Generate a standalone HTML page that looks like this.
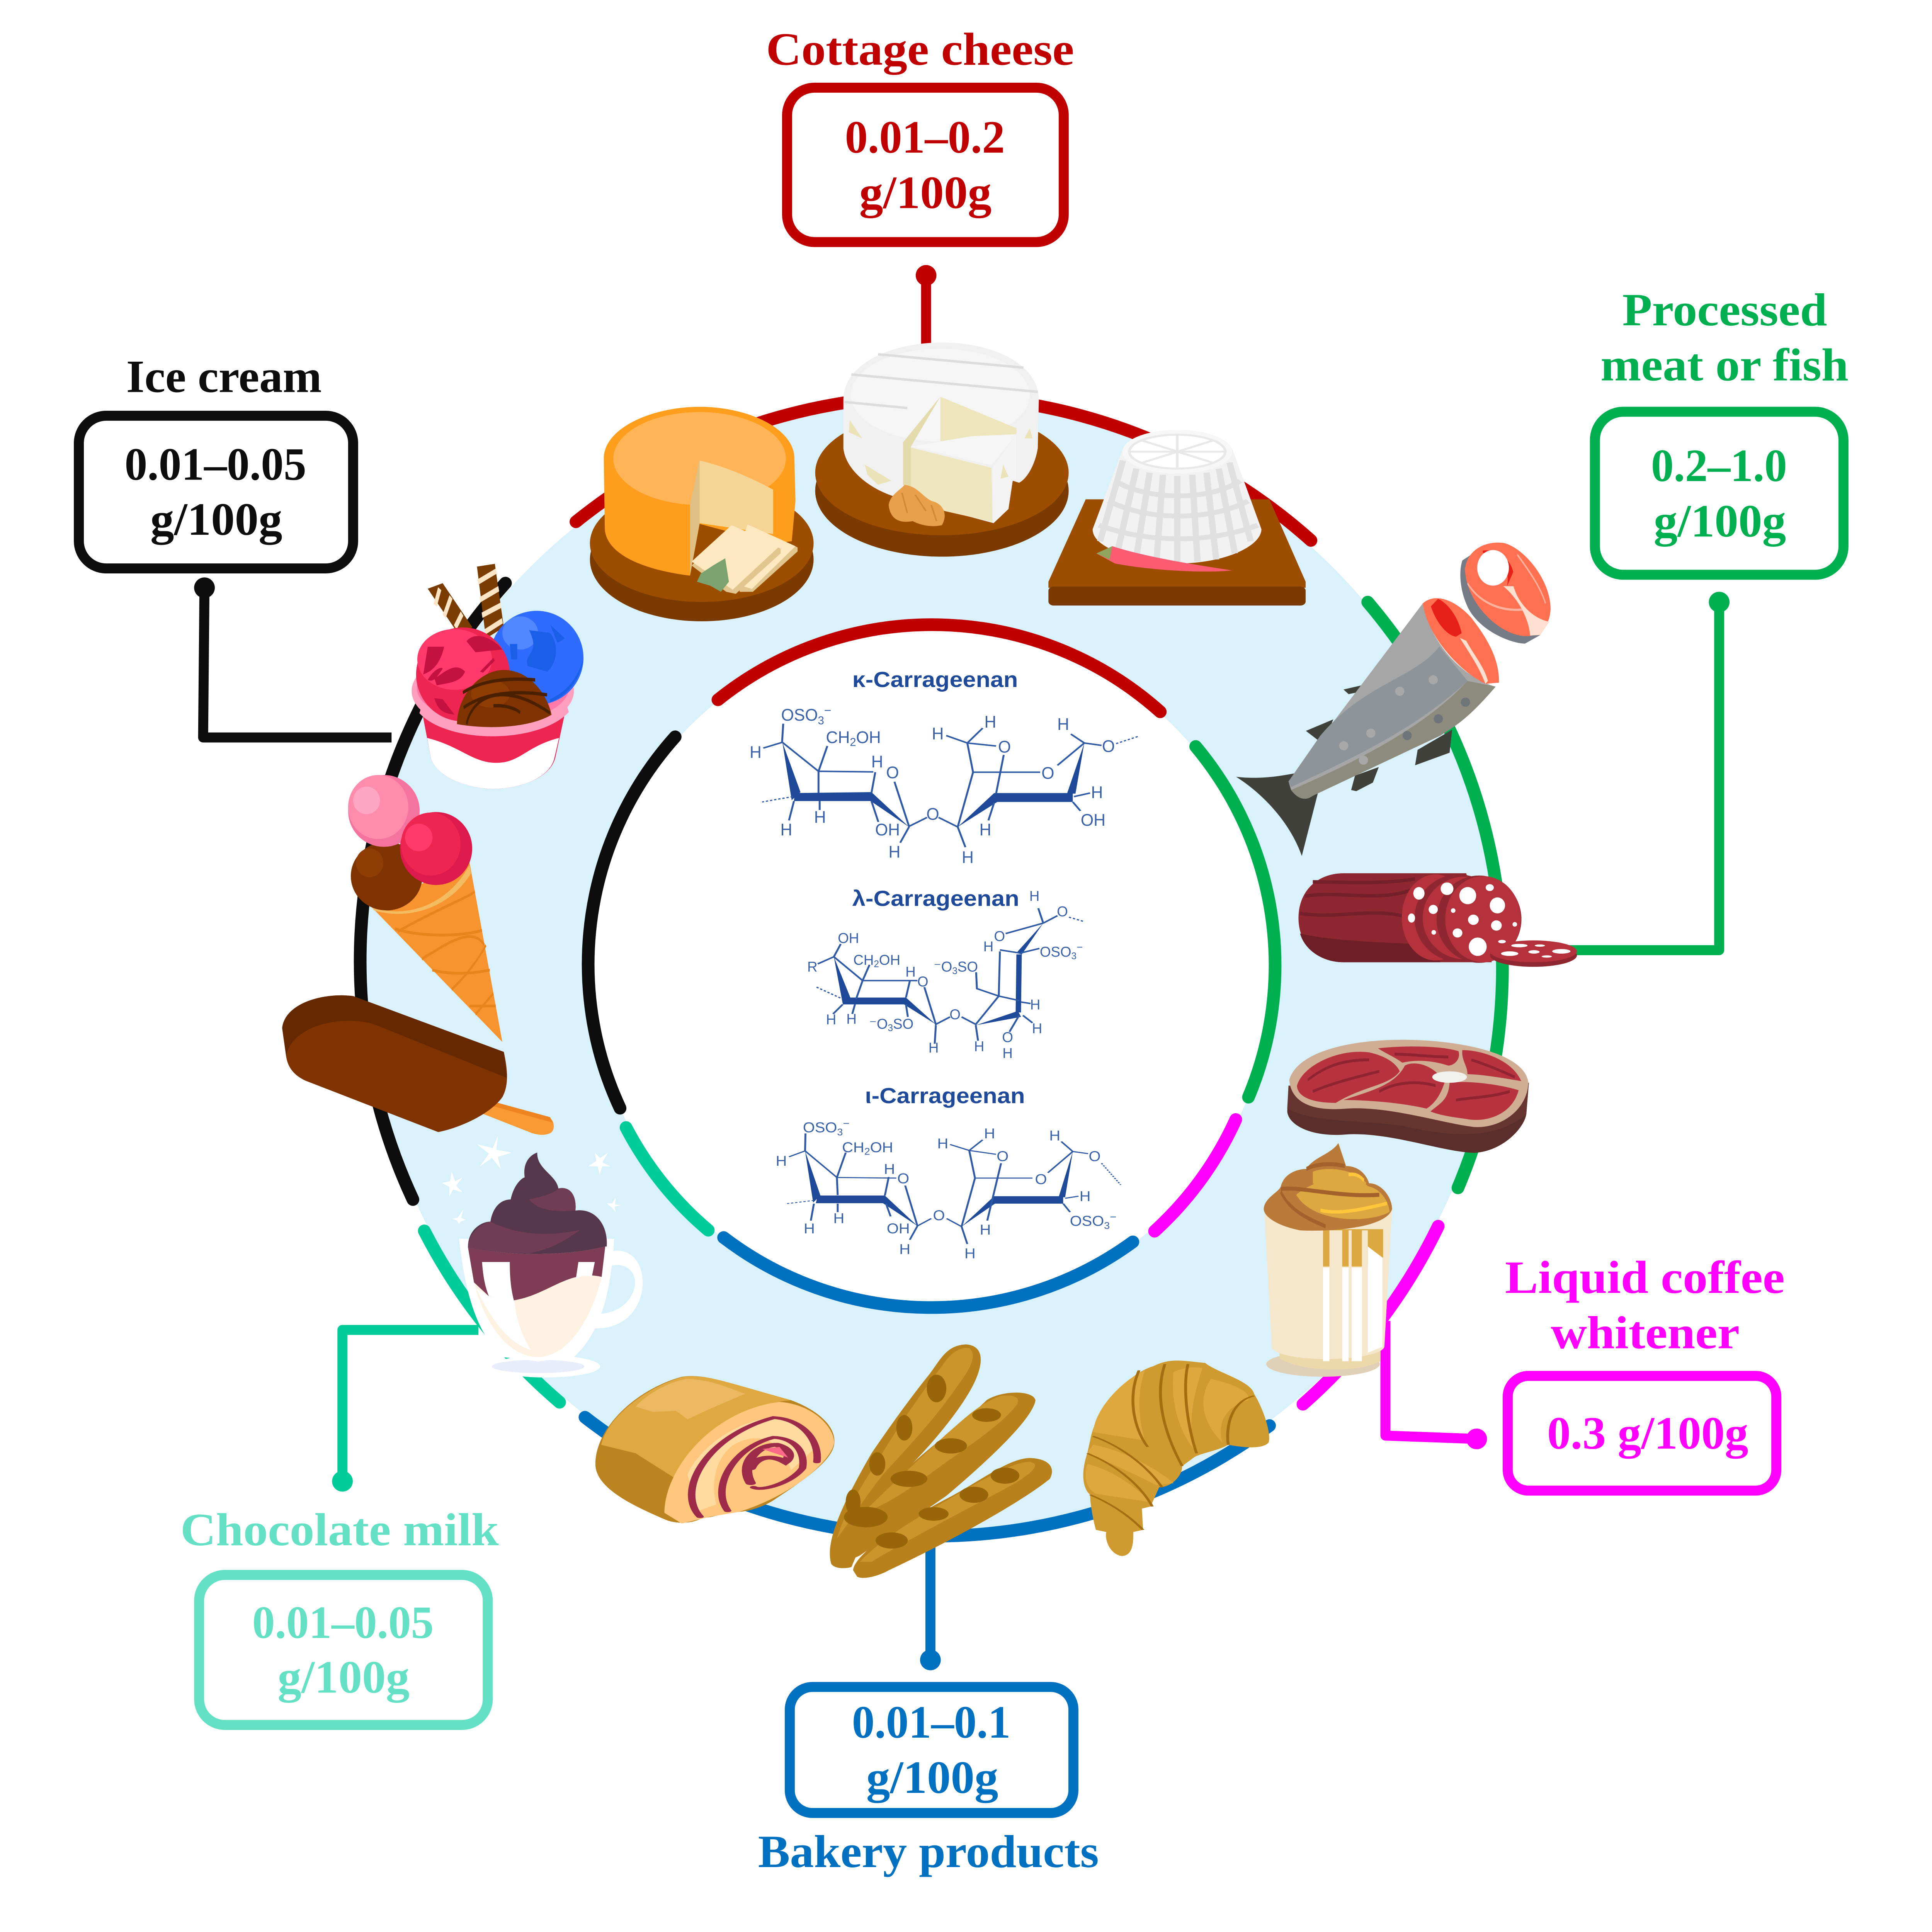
<!DOCTYPE html>
<html><head><meta charset="utf-8"><title>Carrageenan in foods</title>
<style>
html,body{margin:0;padding:0;background:#fff;width:100%;height:100%;overflow:hidden}
svg{display:block;position:fixed;left:0;top:0;width:100vw;height:100vh}
.t{font-family:"Liberation Serif",serif;font-weight:bold;font-size:139px}
.h{font-family:"Liberation Sans",sans-serif;font-weight:bold;font-size:66px;fill:#1f4a99}
.c text{font-family:"Liberation Sans",sans-serif;fill:#3a62a8;text-anchor:middle}
.k text{font-size:56px}
.i text{font-size:68px}
.l{stroke:#2f5aa6;stroke-width:5;fill:none}
.d{stroke:#2f5aa6;stroke-width:4;fill:none;stroke-dasharray:6 5}
.w{fill:#1f4a99}
.a{fill:none;stroke-width:38;stroke-linecap:round}
.n{fill:none;stroke-width:30;stroke-linecap:butt;stroke-linejoin:round}
.b{fill:#fff;stroke-width:30}
</style></head><body>
<svg xmlns="http://www.w3.org/2000/svg" viewBox="0 0 5783 5795" preserveAspectRatio="none">
<rect width="5783" height="5795" fill="#fff"/>
<circle cx="2788" cy="2900" r="1697" fill="#d8f1fb"/>
<circle cx="2789" cy="2902" r="1024" fill="#fff"/>

<!-- inner arcs -->
<path class="a" stroke="#c00000" d="M2149 2099A1024 1024 0 0 1 3473 2135"/>
<path class="a" stroke="#00b050" d="M3579 2239A1024 1024 0 0 1 3737 3291"/>
<path class="a" stroke="#ff00ff" d="M3699 3358A1024 1024 0 0 1 3456 3693"/>
<path class="a" stroke="#0070c0" d="M3391 3725A1024 1024 0 0 1 2166 3712"/>
<path class="a" stroke="#00cc99" d="M2120 3690A1024 1024 0 0 1 1874 3382"/>
<path class="a" stroke="#0d0d0d" d="M1856 3324A1024 1024 0 0 1 2021 2210"/>
<!-- outer arcs -->
<path class="a" stroke="#c00000" d="M1724 1565A1697 1697 0 0 1 3924 1621"/>
<path class="a" stroke="#00b050" d="M4094 1806A1697 1697 0 0 1 4364 3563"/>
<path class="a" stroke="#ff00ff" d="M4305 3678A1697 1697 0 0 1 3900 4212"/>
<path class="a" stroke="#0070c0" d="M3800 4276A1697 1697 0 0 1 1751 4251"/>
<path class="a" stroke="#00cc99" d="M1675 4206A1697 1697 0 0 1 1270 3692"/>
<path class="a" stroke="#0d0d0d" d="M1236 3598A1697 1697 0 0 1 1513 1749"/>

<!-- connectors -->
<path class="n" stroke="#c00000" d="M2772 826V1040"/><circle cx="2772" cy="826" r="31" fill="#c00000"/>
<path class="n" stroke="#0070c0" d="M2785 4600V4979"/><circle cx="2785" cy="4979" r="31" fill="#0070c0"/>
<path class="n" stroke="#00b050" d="M4600 2850H5146V1806"/><circle cx="5146" cy="1806" r="31" fill="#00b050"/>
<path class="n" stroke="#ff00ff" d="M4147 3962V4306L4420 4316"/><circle cx="4420" cy="4316" r="31" fill="#ff00ff"/>
<path class="n" stroke="#0d0d0d" d="M1172 2212H608L612 1763"/><circle cx="612" cy="1763" r="31" fill="#0d0d0d"/>
<path class="n" stroke="#00cc99" d="M1432 3989H1025V4443"/><circle cx="1025" cy="4443" r="31" fill="#00cc99"/>

<!-- boxes -->
<rect class="b" stroke="#c00000" x="2356" y="263" width="828" height="463" rx="82"/>
<rect class="b" stroke="#0d0d0d" x="236" y="1247" width="821" height="458" rx="82"/>
<rect class="b" stroke="#00b050" x="4774" y="1235" width="744" height="489" rx="85"/>
<rect class="b" stroke="#ff00ff" x="4513" y="4127" width="804" height="344" rx="62"/>
<rect class="b" stroke="#64e0c4" x="596" y="4724" width="864" height="450" rx="77"/>
<rect class="b" stroke="#0070c0" x="2364" y="5060" width="849" height="378" rx="68"/>

<!-- labels -->
<g class="t">
<text x="2293" y="194" fill="#c00000" textLength="922" lengthAdjust="spacingAndGlyphs">Cottage cheese</text>
<text x="2529" y="458" fill="#c00000" textLength="479" lengthAdjust="spacingAndGlyphs">0.01–0.2</text>
<text x="2572" y="624" fill="#c00000" textLength="396" lengthAdjust="spacingAndGlyphs">g/100g</text>
<text x="378" y="1176" fill="#0d0d0d" textLength="585" lengthAdjust="spacingAndGlyphs">Ice cream</text>
<text x="373" y="1439" fill="#0d0d0d" textLength="544" lengthAdjust="spacingAndGlyphs">0.01–0.05</text>
<text x="450" y="1604" fill="#0d0d0d" textLength="395" lengthAdjust="spacingAndGlyphs">g/100g</text>
<text x="4856" y="976" fill="#00b050" textLength="613" lengthAdjust="spacingAndGlyphs">Processed</text>
<text x="4791" y="1141" fill="#00b050" textLength="742" lengthAdjust="spacingAndGlyphs">meat or fish</text>
<text x="4942" y="1443" fill="#00b050" textLength="407" lengthAdjust="spacingAndGlyphs">0.2–1.0</text>
<text x="4950" y="1609" fill="#00b050" textLength="396" lengthAdjust="spacingAndGlyphs">g/100g</text>
<text x="4505" y="3878" fill="#ff00ff" textLength="837" lengthAdjust="spacingAndGlyphs">Liquid coffee</text>
<text x="4642" y="4044" fill="#ff00ff" textLength="565" lengthAdjust="spacingAndGlyphs">whitener</text>
<text x="4631" y="4345" fill="#ff00ff" textLength="602" lengthAdjust="spacingAndGlyphs">0.3 g/100g</text>
<text x="540" y="4635" fill="#64e0c4" textLength="953" lengthAdjust="spacingAndGlyphs">Chocolate milk</text>
<text x="755" y="4913" fill="#64e0c4" textLength="543" lengthAdjust="spacingAndGlyphs">0.01–0.05</text>
<text x="831" y="5077" fill="#64e0c4" textLength="395" lengthAdjust="spacingAndGlyphs">g/100g</text>
<text x="2550" y="5212" fill="#0070c0" textLength="475" lengthAdjust="spacingAndGlyphs">0.01–0.1</text>
<text x="2593" y="5378" fill="#0070c0" textLength="395" lengthAdjust="spacingAndGlyphs">g/100g</text>
<text x="2269" y="5600" fill="#0070c0" textLength="1020" lengthAdjust="spacingAndGlyphs">Bakery products</text>
</g>
<text class="h" x="2551" y="2061" textLength="496" lengthAdjust="spacingAndGlyphs">κ-Carrageenan</text>
<text class="h" x="2551" y="2717" textLength="500" lengthAdjust="spacingAndGlyphs">λ-Carrageenan</text>
<text class="h" x="2589" y="3309" textLength="479" lengthAdjust="spacingAndGlyphs">ι-Carrageenan</text>

<!-- kappa + lambda structures -->
<g class="c k" transform="translate(2000,1800) scale(1.148,.893)">
<g class="w">
<polygon points="298,478 322,672 345,645"/><polygon points="330,648 530,645 530,675 328,675"/><polygon points="530,645 628,762 528,675"/>
<polygon points="1085,480 1040,650 1062,650"/><polygon points="850,648 1055,648 1055,678 850,678"/><polygon points="755,762 850,648 858,678"/>
<polygon points="460,1335 620,1335 620,1358 455,1358"/><polygon points="432,1198 455,1355 475,1335"/><polygon points="620,1335 698,1425 615,1358"/>
<polygon points="908,1190 922,1190 920,1385 906,1385"/><polygon points="802,1428 912,1380 920,1400"/><polygon points="978,1085 908,1185 922,1190"/>
</g>
<path class="l" d="M298 478L392 575L535 577M392 575L415 490M392 575V648M297 478L300 415M297 478L248 497M540 578L530 648M590 610L628 760L675 730M705 730L755 762L795 578H970M780 480L795 578M780 480L725 455M780 480L820 430M780 480L855 490M875 520L855 650M1085 480L1050 450M1085 480L1130 488M1058 660L1100 648M1055 678L1075 708M850 680L835 740M755 762L775 830M628 762L605 815M530 675L548 745M328 675L315 740M395 675V705"/>
<path class="l" stroke-width="8" d="M1085 480L1015 555"/>
<path class="d" d="M325 660L245 678M1168 482L1225 458"/>
<path class="l" d="M432 1198L507 1278H650M507 1278L525 1225M507 1278L490 1340M630 1280L620 1335M668 1300L698 1425L735 1400M765 1400L802 1425L862 1330L865 1180M862 1330L805 1305L803 1250M862 1330L915 1345M978 1085L965 1035M978 1085L1015 1060M865 1175L915 1185M920 1185L968 1170M920 1350L945 1355M915 1395L890 1450M925 1395L950 1420M698 1428L695 1490M802 1428L808 1480M432 1198L390 1222M432 1198L450 1155M455 1358L430 1390M487 1358L480 1390M620 1358L625 1400"/>
<path class="l" stroke-width="8" d="M978 1085L880 1120"/>
<path class="d" d="M387 1300L455 1340M1045 1065L1085 1080"/>
<text transform="matrix(.77 0 0 1 360 405)">OSO<tspan dy="12" font-size="38">3</tspan><tspan dy="-32" font-size="42">−</tspan></text>
<text transform="matrix(.77 0 0 1 483 480)">CH<tspan dy="10" font-size="38">2</tspan><tspan dy="-10">OH</tspan></text>
<text transform="matrix(.77 0 0 1 228 530)">H</text><text transform="matrix(.77 0 0 1 545 562)">H</text><text transform="matrix(.77 0 0 1 585 598)">O</text>
<text transform="matrix(.77 0 0 1 396 748)">H</text><text transform="matrix(.77 0 0 1 308 790)">H</text><text transform="matrix(.77 0 0 1 572 790)">OH</text>
<text transform="matrix(.77 0 0 1 590 865)">H</text><text transform="matrix(.77 0 0 1 690 738)">O</text><text transform="matrix(.77 0 0 1 703 468)">H</text>
<text transform="matrix(.77 0 0 1 840 428)">H</text><text transform="matrix(.77 0 0 1 877 512)">O</text><text transform="matrix(.77 0 0 1 1030 436)">H</text>
<text transform="matrix(.77 0 0 1 990 600)">O</text><text transform="matrix(.77 0 0 1 1148 510)">O</text><text transform="matrix(.77 0 0 1 1118 665)">H</text>
<text transform="matrix(.77 0 0 1 1108 758)">OH</text><text transform="matrix(.77 0 0 1 827 790)">H</text><text transform="matrix(.77 0 0 1 781 883)">H</text>
<g font-size="50">
<text style="font-size:48px" transform="matrix(.77 0 0 1 470 1152)">OH</text><text style="font-size:48px" transform="matrix(.77 0 0 1 376 1248)">R</text>
<text style="font-size:48px" transform="matrix(.77 0 0 1 544 1225)">CH<tspan dy="8" font-size="32">2</tspan><tspan dy="-8">OH</tspan></text>
<text style="font-size:48px" transform="matrix(.77 0 0 1 632 1265)">H</text><text style="font-size:48px" transform="matrix(.77 0 0 1 664 1298)">O</text>
<text style="font-size:48px" transform="matrix(.77 0 0 1 425 1425)">H</text><text style="font-size:48px" transform="matrix(.77 0 0 1 478 1423)">H</text>
<text style="font-size:48px" transform="matrix(.77 0 0 1 582 1440)">⁻O<tspan dy="8" font-size="32">3</tspan><tspan dy="-8">SO</tspan></text>
<text style="font-size:48px" transform="matrix(.77 0 0 1 750 1248)">⁻O<tspan dy="8" font-size="32">3</tspan><tspan dy="-8">SO</tspan></text>
<text style="font-size:48px" transform="matrix(.77 0 0 1 748 1408)">O</text><text style="font-size:48px" transform="matrix(.77 0 0 1 692 1520)">H</text>
<text style="font-size:48px" transform="matrix(.77 0 0 1 811 1515)">H</text><text style="font-size:48px" transform="matrix(.77 0 0 1 885 1485)">O</text>
<text style="font-size:48px" transform="matrix(.77 0 0 1 885 1538)">H</text><text style="font-size:48px" transform="matrix(.77 0 0 1 955 1010)">H</text>
<text style="font-size:48px" transform="matrix(.77 0 0 1 1028 1062)">O</text><text style="font-size:48px" transform="matrix(.77 0 0 1 864 1145)">O</text>
<text style="font-size:48px" transform="matrix(.77 0 0 1 835 1180)">H</text>
<text style="font-size:48px" transform="matrix(.77 0 0 1 1025 1198)">OSO<tspan dy="8" font-size="32">3</tspan><tspan dy="-28" font-size="36">−</tspan></text>
<text style="font-size:48px" transform="matrix(.77 0 0 1 957 1375)">H</text><text style="font-size:48px" transform="matrix(.77 0 0 1 962 1455)">H</text>
</g>
</g>

<!-- iota structure -->
<g class="c i" transform="translate(2000,3100) scale(1.148,.6378)">
<g class="w">
<polygon points="390,762 565,762 565,798 385,798"/><polygon points="357,552 378,795 397,762"/><polygon points="565,762 650,905 560,798"/>
<polygon points="850,765 1030,765 1030,800 850,800"/><polygon points="765,908 850,765 852,800"/><polygon points="1055,555 1018,770 1035,770"/>
</g>
<path class="l" d="M357 552L440 677L595 680M440 677L463 560M440 677L442 760M357 552L358 470M357 552L315 580M575 675L565 762M618 715L650 905L686 870M726 870L765 908L800 680H950M785 550L800 680M785 550L735 522M785 550L820 500M785 550L855 568M868 610L832 880M1055 555L1025 508M1055 555L1095 565M1035 775L1070 765M1030 800L1048 840M380 800L372 880M442 800V840M568 800L580 860M650 905L630 970M765 908L780 990"/>
<path class="l" stroke-width="8" d="M1055 555L990 655"/>
<path class="d" d="M380 785L310 800M1130 610L1180 712"/>
<text transform="matrix(.59 0 0 1 412 465)">OSO<tspan dy="14" font-size="46">3</tspan><tspan dy="-40" font-size="50">−</tspan></text>
<text transform="matrix(.59 0 0 1 520 558)">CH<tspan dy="12" font-size="46">2</tspan><tspan dy="-12">OH</tspan></text>
<text transform="matrix(.59 0 0 1 295 622)">H</text><text transform="matrix(.59 0 0 1 577 660)">H</text><text transform="matrix(.59 0 0 1 613 705)">O</text>
<text transform="matrix(.59 0 0 1 445 892)">H</text><text transform="matrix(.59 0 0 1 368 940)">H</text><text transform="matrix(.59 0 0 1 600 940)">OH</text>
<text transform="matrix(.59 0 0 1 617 1037)">H</text><text transform="matrix(.59 0 0 1 706 878)">O</text><text transform="matrix(.59 0 0 1 716 540)">H</text>
<text transform="matrix(.59 0 0 1 838 493)">H</text><text transform="matrix(.59 0 0 1 872 600)">O</text><text transform="matrix(.59 0 0 1 1008 503)">H</text>
<text transform="matrix(.59 0 0 1 972 708)">O</text><text transform="matrix(.59 0 0 1 1112 600)">O</text><text transform="matrix(.59 0 0 1 1087 788)">H</text>
<text transform="matrix(.59 0 0 1 1108 905)">OSO<tspan dy="14" font-size="46">3</tspan><tspan dy="-40" font-size="50">−</tspan></text>
<text transform="matrix(.59 0 0 1 827 945)">H</text><text transform="matrix(.59 0 0 1 787 1057)">H</text>
</g>

<!-- cheese -->
<g transform="translate(1600,0) scale(1.594,1.2117)">
<ellipse cx="314" cy="1385" rx="210" ry="153" fill="#7a3a00"/><ellipse cx="314" cy="1345" rx="210" ry="145" fill="#9c4d00"/>
<path fill="#ff9d1c" d="M130 1135C130 1060 220 1007 310 1007C400 1007 488 1060 488 1135L490 1240L483 1340L448 1345L310 1297L292 1425C200 1410 135 1370 132 1310Z"/>
<ellipse cx="310" cy="1135" rx="162" ry="115" fill="#ffb557"/>
<polygon points="310,1137 292,1250 292,1425 310,1295" fill="#dfc084"/>
<path fill="#f4d595" d="M310 1140C360 1155 410 1185 448 1212V1322L310 1295Z"/>
<polygon points="310,1297 360,1315 300,1390 295,1425" fill="#9c4d00"/>
<path fill="#e0c68e" d="M400 1298L494 1355V1365L410 1465H385Z"/>
<path fill="#fde8bf" d="M400 1298L490 1352L408 1458L365 1440Z"/>
<path fill="#e0c68e" d="M370 1300L462 1358V1370L378 1470L360 1465L295 1400Z"/>
<path fill="#fde8bf" d="M370 1300L460 1352L372 1460L295 1390Z"/>
<path fill="#7ca36f" d="M358 1382L365 1440L350 1465L330 1450L305 1440L312 1420L335 1400Z"/>

<ellipse cx="765" cy="1215" rx="238" ry="163" fill="#7a3a00"/><ellipse cx="765" cy="1170" rx="238" ry="155" fill="#9c4d00"/>
<path fill="#f0f0f0" d="M580 990C580 900 670 848 765 848C860 848 947 900 947 990L945 1110C940 1150 925 1185 910 1195L898 1190L890 1260L862 1295L692 1235C640 1220 585 1170 580 1110Z"/>
<ellipse cx="762" cy="978" rx="168" ry="115" fill="#f5f5f5"/>
<path stroke="#dcdcdc" stroke-width="6" fill="none" d="M645 877L918 910M595 927L945 970M582 995L700 1010"/>
<polygon points="762,982 692,1095 692,1200 707,1215 707,1105" fill="#e3dbab"/>
<polygon points="762,982 905,1060 905,1075 820,1080 707,1105 762,1095" fill="#ede6bd"/>
<polygon points="707,1105 820,1080 905,1075 858,1152" fill="#f5f5f5"/>
<polygon points="707,1108 858,1158 860,1292 770,1265 707,1215" fill="#eee6be"/>
<polygon points="860,1158 905,1075 905,1190 895,1190 890,1260 862,1295" fill="#f3f3f3"/>
<path fill="#ebe3b8" d="M592 1040L615 1085L590 1070ZM620 1150L670 1190L645 1200L625 1175ZM880 1150L890 1180L875 1185ZM930 1060L935 1085L920 1085Z"/>
<path fill="#e8a14a" d="M695 1200C720 1205 725 1225 745 1240C765 1245 778 1270 765 1300C745 1306 725 1300 710 1290C690 1295 668 1290 665 1250C668 1225 685 1215 695 1200Z"/>
<path fill="none" stroke="#cf8a35" stroke-width="3" d="M690 1220L700 1270M715 1225L735 1265M745 1250L755 1290"/>

<polygon points="1035,1236 1380,1236 1448,1440 1448,1455 965,1455 965,1440" fill="#9c4d00"/>
<rect x="965" y="1452" width="483" height="47" rx="10" fill="#7a3a00"/>
<path fill="#f2f2f2" d="M1105 1110L1048 1310C1048 1370 1170 1395 1205 1395C1300 1395 1365 1350 1365 1310L1310 1110Z"/>
<g stroke="#e0e0e0" stroke-width="12" fill="none">
<path d="M1105 1140L1062 1340M1130 1160L1095 1365M1155 1170L1130 1380M1180 1175L1168 1390M1207 1178V1392M1235 1175L1245 1390M1262 1170L1280 1385M1285 1160L1315 1370M1305 1145L1345 1340"/>
<path d="M1090 1190C1150 1240 1270 1240 1325 1190M1078 1240C1150 1290 1270 1290 1340 1240M1060 1300C1150 1345 1270 1345 1358 1300"/>
</g>
<ellipse cx="1207" cy="1118" rx="103" ry="54" fill="#f7f7f7"/><ellipse cx="1207" cy="1118" rx="90" ry="42" fill="#fff" stroke="#e8e8e8" stroke-width="5"/>
<path stroke="#e8e8e8" stroke-width="5" d="M1207 1076V1160M1117 1118H1297M1140 1090L1275 1146M1275 1090L1140 1146"/>
<path fill="#fb5c72" d="M1055 1370L1085 1352C1150 1380 1250 1400 1310 1412C1250 1420 1150 1410 1090 1395Z"/>
<path fill="#8fa45f" d="M1055 1370L1085 1352L1080 1385Z"/>
</g>

<!-- ice creams, cocoa -->
<g transform="translate(700,1600) scale(.8929,1.658)">
<polygon points="650,100 700,90 800,170 750,180" fill="#7a3c00"/>
<path stroke="#fde4c4" stroke-width="12" fill="none" d="M690 100L675 130M728 115L705 150M765 145L742 170"/>
<polygon points="815,60 875,55 905,170 845,190" fill="#7a3c00"/>
<path stroke="#fde4c4" stroke-width="10" fill="none" d="M818 88L880 68M825 120L888 100M832 148L895 130M842 178L900 158"/>
<ellipse cx="868" cy="285" rx="272" ry="75" fill="#ff9fc0"/><ellipse cx="868" cy="280" rx="255" ry="62" fill="#ff7aa8"/>
<ellipse cx="1015" cy="225" rx="157" ry="85" fill="#2f6bff"/>
<ellipse cx="960" cy="180" rx="60" ry="30" fill="#5288ff"/>
<path fill="#1a5fe8" d="M990 175L1060 180C1090 200 1085 235 1050 250L985 240C970 215 1030 220 990 175ZM1060 165L1110 190L1085 198ZM925 200H950V228H930ZM1060 300C1100 290 1150 270 1172 225C1165 260 1120 295 1060 305Z"/>
<path fill="#ee2451" d="M630 320L660 405C680 445 800 462 868 462C950 462 1060 445 1078 405L1112 320C1000 380 730 370 630 320Z"/>
<path fill="#fff" d="M648 370C760 385 800 415 880 415C960 415 980 385 1090 370L1075 405C1060 445 950 462 868 462C800 462 680 445 660 405Z"/>
<ellipse cx="768" cy="255" rx="157" ry="85" fill="#ee2451"/>
<ellipse cx="740" cy="228" rx="125" ry="55" fill="#ff3a6a"/>
<path fill="#c41140" d="M650 205L705 205C690 240 660 250 635 255ZM650 265C670 245 700 240 700 245C680 260 670 270 650 265ZM672 262C700 255 740 230 775 250C760 270 720 270 680 275ZM780 195C810 175 870 190 900 210L810 215ZM825 250L870 225L875 230L835 252ZM672 298L700 300L740 328C700 325 685 320 672 298Z"/>
<path fill="#7f3300" d="M748 345C750 290 830 247 905 247C990 247 1050 290 1065 328C990 352 850 355 748 345Z"/>
<ellipse cx="860" cy="290" rx="65" ry="25" fill="#8f3d05"/>
<path stroke="#4a2000" stroke-width="6" fill="none" d="M768 288C840 262 940 262 1010 265M770 315C850 285 960 285 1050 292M780 345C800 295 900 265 1060 325M870 312C900 310 940 315 960 324"/>
<path fill="none" stroke="#ff9fc0" stroke-width="12" d="M625 320C720 375 1020 375 1120 318"/>

<path fill="#f79430" d="M460 675L790 595L900 920Z"/>
<path stroke="#e8841c" stroke-width="5" fill="none" d="M540 715C620 730 760 730 832 718M665 790C740 800 810 795 858 790M790 855H878M550 720C680 680 780 660 808 648M630 770C720 740 800 710 840 745M730 825C780 800 820 770 845 745M810 870L870 832"/>
<path fill="#f4bc60" d="M460 675C580 700 720 670 790 600L795 615C720 680 580 700 470 682Z"/>
<ellipse cx="512" cy="620" rx="120" ry="62" fill="#7f3300"/>
<ellipse cx="455" cy="596" rx="46" ry="26" fill="#8f3d05"/>
<ellipse cx="503" cy="502" rx="120" ry="65" fill="#f4739f"/>
<ellipse cx="484" cy="495" rx="101" ry="58" fill="#ff8bad"/>
<ellipse cx="445" cy="483" rx="45" ry="25" fill="#ffa6c4"/>
<ellipse cx="678" cy="570" rx="121" ry="66" fill="#dc1a4c"/>
<ellipse cx="660" cy="562" rx="100" ry="57" fill="#ee2451"/>
<ellipse cx="620" cy="550" rx="46" ry="25" fill="#ff3a6a"/>

<path fill="#fa9a35" d="M830 1022L1060 1058C1078 1065 1075 1082 1060 1085C1040 1090 1020 1088 1000 1085L835 1050Z"/>
<path fill="#ee8420" d="M830 1022L1060 1056L1070 1066L840 1032Z"/>
<path fill="#7f3300" d="M162 895C170 850 300 830 400 837L905 938C920 975 920 1000 900 1020C860 1050 760 1075 685 1083L240 990C200 980 180 965 175 945Z"/>
<path fill="#662800" d="M162 895C170 850 300 830 400 837L905 938L915 985L480 890C380 870 200 885 175 945Z"/>

<g fill="#fff">
<path d="M815 1105L868 1112L885 1090L880 1115L932 1120L885 1128L895 1150L865 1130L825 1145L855 1122Z"/>
<path d="M697 1175L725 1172L730 1155L742 1172L767 1165L745 1180L767 1192L735 1187L722 1200L722 1182Z"/>
<path d="M730 1240L750 1238L770 1222L762 1238L778 1242L760 1245L755 1250L748 1243Z"/>
<path d="M1188 1145L1215 1135L1210 1120L1228 1130L1255 1120L1235 1138L1262 1145L1235 1145L1226 1160L1220 1145Z"/>
<path d="M1250 1212L1268 1212L1280 1202L1278 1214L1298 1215L1276 1218L1280 1228L1268 1220Z"/>
</g>
<path fill="none" stroke="#fff" stroke-width="26" d="M1262 1312C1400 1295 1395 1430 1205 1425"/>
<ellipse cx="1045" cy="1507" rx="183" ry="20" fill="#fff"/><ellipse cx="1020" cy="1507" rx="155" ry="12" fill="#e9edfa"/>
<path fill="#fff" d="M755 1276H1275C1265 1360 1240 1440 1140 1490L1020 1498L900 1490C800 1440 770 1350 755 1276Z"/>
<path fill="#fef3e2" d="M805 1355L855 1380C900 1395 1000 1375 1050 1360C1120 1345 1180 1335 1233 1345C1200 1420 1120 1490 1020 1490C920 1490 840 1430 805 1355Z"/>
<path fill="#fff" d="M940 1390C950 1430 970 1455 995 1477C920 1465 860 1420 812 1365L855 1380Z"/>
<path fill="#7f3d55" d="M785 1292C900 1305 1100 1310 1245 1290L1233 1345C1120 1330 1050 1380 930 1388L855 1380L805 1355Z"/>
<path fill="#fff" d="M832 1318H925C925 1350 930 1370 940 1390L855 1380C840 1360 835 1340 832 1318Z"/>
<path fill="#fff" d="M1155 1318H1210L1200 1345C1180 1342 1160 1342 1146 1350Z"/>
<path fill="#56374c" d="M785 1290C785 1260 830 1245 860 1245C870 1215 900 1205 928 1205C940 1175 970 1165 975 1165C968 1140 990 1125 1017 1120C1015 1150 1080 1160 1088 1185C1130 1180 1150 1200 1145 1225C1210 1220 1255 1250 1250 1290L1245 1290C1100 1310 900 1305 785 1292Z"/>
<path fill="#703d54" d="M785 1292C785 1270 820 1250 860 1245C950 1270 1060 1272 1160 1260C1100 1285 1040 1298 990 1302C900 1302 840 1298 785 1292ZM990 1205C1030 1200 1070 1195 1088 1185C1130 1180 1150 1200 1145 1225C1080 1228 1020 1225 990 1205Z"/>
</g>

<!-- fish, salami, steak, coffee -->
<g transform="translate(3700,1500) scale(.7653,1.722)">
<path fill="#777b86" d="M885 105C870 125 875 160 910 190C960 230 1080 250 1130 250L1190 235L920 95Z"/>
<path fill="#ff7150" d="M895 120C905 85 980 70 1050 75C1130 85 1230 140 1230 190C1225 225 1180 238 1130 237C1030 235 900 180 895 120Z"/>
<path fill="none" stroke="#fff" stroke-opacity=".45" stroke-width="4" d="M905 145C960 185 1060 195 1130 190M1100 95C1140 120 1190 150 1210 180"/>
<path fill="#fde0d0" d="M1045 150L1085 150C1100 175 1150 205 1225 212L1190 235L1150 236C1145 205 1100 170 1045 150Z"/>
<path fill="#e8201a" d="M965 88C1020 85 1070 100 1084 125L1060 150C1075 115 1020 92 965 92Z"/>
<ellipse cx="1005" cy="118" rx="62" ry="31" fill="#fff"/>
<path fill="#40413a" d="M0 482C100 487 180 480 240 475L320 510L257 620C210 560 100 510 0 482Z"/>
<path fill="#40413a" d="M273 402L380 382L340 425ZM420 330L545 317L530 330L440 338ZM700 462L710 435L845 400L835 440ZM450 505L465 480L558 465L535 492L470 507Z"/>
<path fill="#a6a6a6" d="M205 490L730 180C770 260 900 310 1015 325C950 355 900 380 800 410L300 515C270 525 240 520 215 505Z"/>
<path fill="#8e9498" d="M330 410C500 320 700 310 795 255L905 315C700 400 450 450 215 500L205 490Z"/>
<path fill="#8c8b7e" d="M215 505C500 450 750 390 905 315L1015 325C900 385 850 395 800 410L300 515C270 525 240 520 215 505Z"/>
<g fill="#a8a8a8"><ellipse cx="421" cy="428" rx="18" ry="8"/><ellipse cx="527" cy="406" rx="18" ry="8"/><ellipse cx="640" cy="333" rx="18" ry="8"/><ellipse cx="771" cy="313" rx="18" ry="8"/><ellipse cx="498" cy="453" rx="18" ry="8"/></g>
<g fill="#6f7478"><ellipse cx="669" cy="410" rx="18" ry="8"/><ellipse cx="791" cy="381" rx="18" ry="8"/><ellipse cx="897" cy="352" rx="18" ry="8"/></g>
<path fill="#ff7150" d="M730 180C780 160 860 175 920 205C990 245 1030 280 1028 318L975 320C880 300 750 240 730 180Z"/>
<path fill="#fde0d0" d="M875 240L900 245C930 270 970 290 985 315L975 320C950 290 910 265 875 240Z"/>
<path fill="#e8201a" d="M762 185L790 172C830 180 870 205 882 232L860 238C820 235 780 210 762 185Z"/>

<path fill="#8f2730" d="M244 728C244 680 320 650 420 650H900L1000 805H420C320 805 244 775 244 728Z"/>
<path fill="#6e1e26" d="M250 755C400 770 600 770 760 775L800 805H420C340 805 270 785 250 755Z"/>
<path stroke="#74202a" stroke-width="6" fill="none" d="M270 690C400 680 550 700 680 680M250 720C400 730 520 710 660 725M300 665C400 665 560 670 700 660"/>
<ellipse cx="780" cy="727" rx="132" ry="75" fill="#b5323d"/>
<ellipse cx="870" cy="728" rx="172" ry="76" fill="#8f2730"/><ellipse cx="895" cy="728" rx="165" ry="72" fill="#b5323d"/>
<ellipse cx="950" cy="730" rx="166" ry="76" fill="#8f2730"/><ellipse cx="966" cy="730" rx="148" ry="75" fill="#b5323d"/>
<g fill="#fff"><ellipse cx="906" cy="689" rx="33" ry="15"/><ellipse cx="1022" cy="706" rx="30" ry="14"/><ellipse cx="928" cy="731" rx="21" ry="9"/><ellipse cx="1018" cy="741" rx="21" ry="9"/><ellipse cx="866" cy="754" rx="19" ry="8"/><ellipse cx="945" cy="778" rx="35" ry="16"/><ellipse cx="992" cy="675" rx="16" ry="6"/><ellipse cx="849" cy="715" rx="9" ry="4"/><ellipse cx="1090" cy="739" rx="9" ry="4"/><ellipse cx="771" cy="713" rx="18" ry="8"/><ellipse cx="825" cy="677" rx="25" ry="11"/><ellipse cx="715" cy="685" rx="22" ry="11"/><ellipse cx="773" cy="753" rx="9" ry="4"/><ellipse cx="686" cy="728" rx="14" ry="8"/></g>
<ellipse cx="1163" cy="793" rx="170" ry="20" fill="#8f2730"/><ellipse cx="1163" cy="786" rx="170" ry="19" fill="#b5323d"/>
<g fill="#fff"><ellipse cx="1070" cy="790" rx="34" ry="4"/><ellipse cx="1108" cy="776" rx="32" ry="3"/><ellipse cx="1165" cy="787" rx="22" ry="3"/><ellipse cx="1215" cy="795" rx="20" ry="2"/><ellipse cx="1272" cy="786" rx="36" ry="4"/><ellipse cx="1188" cy="776" rx="20" ry="2"/><ellipse cx="1040" cy="769" rx="15" ry="3"/></g>

<path fill="#5a2e2a" d="M205 1020L200 1065C205 1090 300 1110 430 1105C600 1100 800 1135 930 1137C1040 1135 1125 1095 1135 1070L1145 1015Z"/>
<path fill="#67352f" d="M205 1020L200 1060C300 1085 500 1080 650 1090C800 1105 1000 1120 1135 1070L1145 1015Z"/>
<path fill="#d0ad95" d="M208 1010C240 960 450 940 650 940C850 940 1130 960 1143 1015C1140 1060 1040 1095 930 1092C800 1085 600 1055 430 1060C300 1065 215 1050 208 1010Z"/>
<path fill="#b83340" d="M238 1020C260 985 400 955 520 962C600 970 630 985 640 995C600 1020 500 1020 390 1050C300 1050 240 1040 238 1020Z"/>
<path fill="#b83340" d="M555 955C650 950 800 950 870 960C880 975 850 985 830 985C760 975 700 975 650 980C620 970 590 965 555 955Z"/>
<path fill="#b83340" d="M885 958C960 958 1080 975 1115 1012C1060 1008 960 1000 905 1000C905 985 880 975 885 958Z"/>
<path fill="#b83340" d="M420 1045C520 1030 620 1020 660 985C700 975 780 985 815 1015C800 1035 780 1050 745 1060C650 1050 520 1045 420 1045Z"/>
<path fill="#b83340" d="M760 1065C800 1050 830 1045 835 1015C920 1010 1050 1020 1105 1028C1080 1070 980 1085 900 1078C850 1075 800 1072 760 1065Z"/>
<path stroke="#8f2430" stroke-width="5" fill="none" d="M280 1010C340 990 400 975 520 975M300 1030C380 1015 470 1005 560 995M620 965C680 965 760 970 830 970M920 975C990 985 1040 995 1090 1005M860 1045C930 1040 1000 1040 1070 1030M560 1030C620 1015 700 1010 780 1020"/>
<ellipse cx="835" cy="1005" rx="68" ry="10" fill="#f0f0ec"/>

<ellipse cx="340" cy="1505" rx="222" ry="22" fill="#e0d0b8"/>
<path fill="#ecd8a8" d="M170 1480H565V1500C480 1520 260 1520 170 1495Z"/>
<path fill="#f5e7cb" d="M110 1235H610L580 1475C560 1500 200 1505 140 1478Z"/>
<path fill="#dca840" d="M340 1270H575V1320L515 1300V1335H340Z"/>
<g fill="#fff"><rect x="340" y="1337" width="25" height="163"/><rect x="415" y="1337" width="25" height="163"/><rect x="452" y="1337" width="40" height="163"/><path d="M515 1300L572 1320V1475L515 1485Z"/></g>
<g fill="#f5e7cb"><rect x="365" y="1272" width="50" height="70"/><rect x="440" y="1272" width="12" height="70"/><rect x="492" y="1272" width="23" height="70"/></g>
<path fill="#ba7a3a" d="M108 1235C110 1215 170 1205 175 1195C190 1170 250 1165 275 1165C300 1145 370 1140 400 1120L430 1160C480 1160 510 1175 520 1190C570 1190 610 1215 610 1235C590 1265 400 1275 250 1272C170 1265 110 1250 108 1235Z"/>
<path fill="#dda840" d="M235 1210C300 1185 450 1165 515 1195C570 1200 600 1225 600 1240C520 1260 300 1260 235 1210Z"/>
<path fill="#dda840" d="M300 1170C350 1160 470 1165 510 1190C470 1205 350 1205 300 1190Z"/>
<path fill="none" stroke="#ffc63c" stroke-width="6" d="M330 1237C400 1245 500 1235 590 1225M440 1175C470 1172 490 1180 500 1185"/>
<path fill="none" stroke="#a3622c" stroke-width="7" d="M175 1200C250 1195 400 1215 560 1210M175 1205C210 1240 300 1255 350 1265M275 1165C320 1155 380 1155 425 1160"/>
</g>

<!-- pastries -->
<g transform="translate(1300,3900) scale(1.722,.6378)">
<path fill="#bb8420" d="M280 770C280 600 350 420 430 360C470 345 500 380 620 470C670 520 700 600 695 680C690 760 640 850 590 940C570 975 540 1000 520 995L480 1020L465 1025C450 1050 420 1055 400 1030C340 960 280 880 280 770Z"/>
<path fill="#e0a840" d="M290 680C300 560 360 420 430 362C470 345 500 380 620 470C540 490 480 600 440 740L420 840L350 720Z"/>
<path fill="#ecb862" d="M350 500C370 440 410 380 440 370C480 375 500 400 540 440L480 510L440 560L420 520L380 525Z"/>
<path fill="#ffc77d" d="M400 1000C400 800 480 520 600 478C660 490 695 600 695 670C690 760 620 920 530 995L480 1018L430 1050Z"/>
<path fill="#ffdba0" d="M440 820C460 700 520 570 590 550C640 570 665 640 660 700L620 800C600 640 560 620 520 680C490 740 480 850 490 960L460 990Z"/>
<g fill="none" stroke-linecap="round">
<path stroke="#9e2a4a" stroke-width="13" d="M462 1018C420 900 470 640 590 552C640 560 670 660 665 760"/>
<path stroke="#9e2a4a" stroke-width="13" d="M510 990C480 880 520 690 590 645C630 650 645 720 640 790C620 860 570 900 555 880"/>
<path stroke="#9e2a4a" stroke-width="18" d="M550 860C530 770 560 680 595 680C620 700 620 740 610 760C590 730 560 730 550 790"/>
</g>
<path fill="#fb6a88" d="M570 700L600 690L615 740Z"/>

<path fill="#b8811c" d="M690 1240C680 1150 700 1000 760 720C790 600 830 450 860 350C880 280 890 210 925 208C955 215 955 290 940 380C920 500 860 700 800 850C760 1000 750 1100 725 1255C710 1265 695 1260 690 1240Z"/>
<path fill="#cc952c" d="M700 1120C710 1020 740 880 770 760C800 620 840 460 885 300C900 240 915 220 930 225C945 260 930 330 910 400C870 560 820 700 780 820C750 920 720 1050 700 1120Z"/>
<path fill="#b8811c" d="M700 1180C700 1100 760 950 830 770C880 650 930 550 960 470C985 425 1040 420 1045 470C1040 560 960 760 890 920L740 1200C720 1230 700 1220 700 1180Z"/>
<path fill="#cc952c" d="M745 1000C790 880 830 780 890 630C920 560 950 480 985 450C1015 440 1020 470 1010 500C980 600 920 700 860 820C820 900 780 970 745 1000Z"/>
<path fill="#b8811c" d="M728 1270C730 1200 800 1060 900 920C960 830 1000 745 1035 742C1070 745 1080 790 1070 840C1020 950 900 1130 790 1270C770 1300 745 1315 735 1300Z"/>
<path fill="#cc952c" d="M740 1230C780 1110 860 990 930 880C970 820 1010 760 1035 760C1055 770 1040 810 1010 860C950 950 840 1100 760 1230Z"/>
<g fill="#996509">
<ellipse cx="873" cy="415" rx="17" ry="65"/><ellipse cx="817" cy="600" rx="14" ry="60"/><ellipse cx="770" cy="770" rx="14" ry="55"/><ellipse cx="728" cy="950" rx="13" ry="60"/>
<ellipse cx="960" cy="540" rx="25" ry="32"/><ellipse cx="898" cy="685" rx="28" ry="36"/><ellipse cx="825" cy="840" rx="32" ry="38"/><ellipse cx="750" cy="1020" rx="38" ry="48"/>
<ellipse cx="992" cy="825" rx="25" ry="38"/><ellipse cx="938" cy="915" rx="25" ry="38"/><ellipse cx="868" cy="1005" rx="26" ry="32"/><ellipse cx="795" cy="1130" rx="28" ry="38"/>
</g>

<path fill="#cf9a2f" d="M1140 660C1150 500 1210 340 1250 310C1280 270 1300 285 1340 295C1360 340 1420 380 1425 440C1445 530 1455 640 1450 670C1440 700 1410 695 1380 680C1360 710 1330 720 1320 740L1300 780C1300 830 1280 880 1260 880L1245 970L1230 980L1232 1080L1215 1090C1215 1140 1215 1200 1195 1203C1175 1195 1165 1130 1168 1090L1150 1080C1145 1030 1140 960 1140 915C1125 880 1125 800 1135 720Z"/>
<path fill="#dea83f" d="M1145 620C1150 500 1200 370 1235 330C1220 450 1225 560 1235 660ZM1145 680C1190 700 1250 780 1285 860L1255 870C1220 820 1170 760 1135 720ZM1285 340C1295 320 1320 310 1335 320C1320 450 1310 560 1320 700C1290 600 1280 450 1285 340ZM1350 370C1400 400 1420 440 1415 470C1375 500 1360 580 1370 670C1330 560 1330 450 1350 370ZM1135 770C1180 800 1220 880 1245 950L1150 910C1130 880 1130 820 1135 770Z"/>
<path fill="none" stroke="#a36d10" stroke-width="5" d="M1225 330C1205 450 1215 600 1240 690M1270 300C1255 420 1260 580 1300 780M1310 300C1300 420 1310 600 1325 720M1145 640C1190 680 1240 780 1265 880M1135 720C1190 780 1230 880 1248 970M1140 915C1180 960 1210 1020 1232 1080M1425 450C1390 470 1375 570 1380 680"/>
</g>
</svg>
</body></html>
